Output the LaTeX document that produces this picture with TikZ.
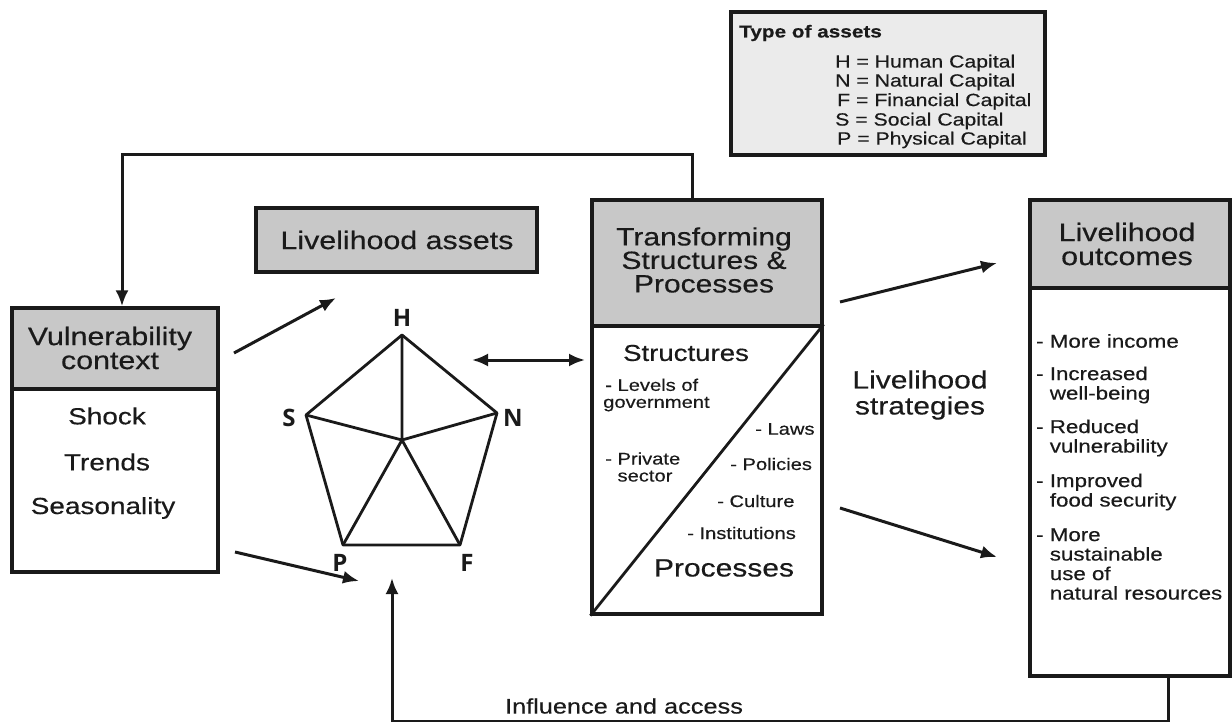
\documentclass[tikz,border=0pt]{standalone}
\usepackage{fontspec}
\setmainfont{Liberation Sans}[FakeStretch=1.2,FakeBold=0.4]
\newfontfamily\pentfont{Open Sans}
\usetikzlibrary{arrows.meta,calc}
\definecolor{hdr}{HTML}{C8C8C8}
\definecolor{leg}{HTML}{EBEBEB}
\definecolor{ink}{HTML}{1A1A1A}
\newcommand{\szHead}{\fontsize{25.3}{24}\selectfont}
\newcommand{\szMid}{\fontsize{23.3}{23}\selectfont}
\newcommand{\szLeg}{\fontsize{17.7}{19.5}\selectfont}
\newcommand{\szOut}{\fontsize{18.6}{19.5}\selectfont}
\newcommand{\szStr}{\fontsize{16.8}{17}\selectfont}
\newcommand{\dsh}{\phantom{- }}
\begin{document}
\begin{tikzpicture}[x=1pt,y=-1pt,
  boxline/.style={draw=ink,line width=3.2pt},
  hbox/.style={boxline,fill=hdr,inner sep=0pt,minimum width=#1},
  bbox/.style={boxline,fill=white,inner sep=0pt,minimum width=#1},
  arr/.style={draw=ink,line width=3pt,-{Latex[length=16pt,width=13pt]}},
  darr/.style={draw=ink,line width=3pt,{Latex[length=16pt,width=13pt]}-{Latex[length=16pt,width=13pt]}},
  pline/.style={draw=ink,line width=2.8pt,line join=round},
  txt/.style={inner sep=0pt,text=ink},
  plab/.style={inner sep=0pt,text=ink,font=\pentfont\bfseries\fontsize{24}{24}\selectfont},
]
\useasboundingbox (0,0) rectangle (1232,722);

% legend
\node[boxline,fill=leg,minimum width=314pt,minimum height=143pt,inner sep=0pt] (legend) at (888,83.5) {};
\node[txt,anchor=west,font=\bfseries\fontsize{17.3}{17}\selectfont] (legt) at (739,33) {Type of assets};
\node[txt,anchor=west,font=\szLeg] (l1) at (835,63) {H = Human Capital};
\node[txt,anchor=west,font=\szLeg] (l2) at (835,82) {N = Natural Capital};
\node[txt,anchor=west,font=\szLeg] (l3) at (837,101.5) {F = Financial Capital};
\node[txt,anchor=west,font=\szLeg] (l4) at (835,121) {S = Social Capital};
\node[txt,anchor=west,font=\szLeg] (l5) at (837,140) {P = Physical Capital};

% vulnerability context
\node[hbox=206pt,minimum height=81pt] (vhead) at (115,348.5) {};
\node[bbox=206pt,minimum height=183pt] (vbody) at (115,480.5) {};
\node[txt,font=\szHead,align=center] (vt) at (110,348) {Vulnerability\\context};
\node[txt,font=\szMid] (v1) at (107,416) {Shock};
\node[txt,font=\szMid] (v2) at (107,462) {Trends};
\node[txt,font=\szMid] (v3) at (103,508) {Seasonality};

% livelihood assets
\node[hbox=281pt,minimum height=64pt] (assets) at (396.5,240) {};
\node[txt,font=\szHead] (at) at (397,240) {Livelihood assets};

% pentagon
\coordinate (H) at (402,335);
\coordinate (N) at (497,413);
\coordinate (F) at (460,545);
\coordinate (P) at (343,545);
\coordinate (S) at (306,415);
\coordinate (O) at (402,440);
\draw[pline] (H) -- (N) -- (F) -- (P) -- (S) -- cycle;
\draw[pline] (O) -- (H) (O) -- (N) (O) -- (F) (O) -- (P) (O) -- (S);
\node[plab] (hl) at (402,318) {H};
\node[plab] (nl) at (513,418) {N};
\node[plab] (fl) at (467,563) {F};
\node[plab] (pl) at (340,563) {P};
\node[plab] (sl) at (289,418) {S};

% transforming structures
\node[hbox=230pt,minimum height=126pt] (thead) at (707,263) {};
\node[bbox=230pt,minimum height=288pt] (tbody) at (707,470) {};
\draw[pline] (tbody.south west) -- (tbody.north east);
\node[txt,font=\fontsize{25}{23.5}\selectfont,align=center] (tt) at (704,260) {Transforming\\Structures \&\\Processes};
\node[txt,font=\fontsize{23}{23}\selectfont] (st) at (686,353) {Structures};
\node[txt,font=\szStr,anchor=west,align=left] (s1) at (603,395) {\hspace{2pt}- Levels of\\government};
\node[txt,font=\szStr,anchor=west,align=left] (s2) at (605,467) {- Private\\\dsh sector};
\node[txt,font=\szStr,anchor=west] (p1) at (755,429) {- Laws};
\node[txt,font=\szStr,anchor=west] (p2) at (730,464) {- Policies};
\node[txt,font=\szStr,anchor=west] (p3) at (717,501) {- Culture};
\node[txt,font=\szStr,anchor=west] (p4) at (687,533) {- Institutions};
\node[txt,font=\fontsize{25}{25}\selectfont] (pt) at (724,568) {Processes};

% livelihood strategies
\node[txt,font=\fontsize{25}{26}\selectfont,align=center] (ls) at (920,395) {Livelihood\\strategies};

% outcomes
\node[hbox=200pt,minimum height=88pt] (ohead) at (1130,244) {};
\node[bbox=200pt,minimum height=388pt] (obody) at (1130,482) {};
\node[txt,font=\szHead,align=center] (ot) at (1127,244) {Livelihood\\outcomes};
\node[txt,font=\szOut,anchor=west] (o1) at (1036,341) {- More income};
\node[txt,font=\szOut,anchor=west,align=left] (o2) at (1036,385) {- Increased\\\dsh well-being};
\node[txt,font=\szOut,anchor=west,align=left] (o3) at (1036,438) {- Reduced\\\dsh vulnerability};
\node[txt,font=\szOut,anchor=west,align=left] (o4) at (1036,492) {- Improved\\\dsh food security};
\node[txt,font=\szOut,anchor=west,align=left] (o5) at (1036,564) {- More\\\dsh sustainable\\\dsh use of\\\dsh natural resources};

% free arrow ends
\coordinate (a1s) at (234,353);
\coordinate (a1e) at (336,298);
\coordinate (a2s) at (235,552);
\coordinate (a2e) at (359,581);
\coordinate (dL) at (472,360);
\coordinate (dR) at (585,360);
\coordinate (b1s) at (840,302);
\coordinate (b1e) at (997,263);
\coordinate (b2s) at (840,508);
\coordinate (b2e) at (997,557);
\coordinate (acc) at (392,578);
\coordinate (bot) at (392,721);

\draw[arr] (a1s) -- (a1e);
\draw[arr] (a2s) -- (a2e);
\draw[darr] (dL) -- (dR);
\draw[arr] (b1s) -- (b1e);
\draw[arr] (b2s) -- (b2e);

% feedback loops
\draw[arr] ([xshift=-15pt]thead.north) |- (122,155) -- ([xshift=7pt]vhead.north);
\draw[arr] ([xshift=38pt]obody.south) |- (bot) -- (acc);
\node[txt,font=\fontsize{21.1}{20}\selectfont] (ia) at (624,706) {Influence and access};
\end{tikzpicture}
\end{document}
